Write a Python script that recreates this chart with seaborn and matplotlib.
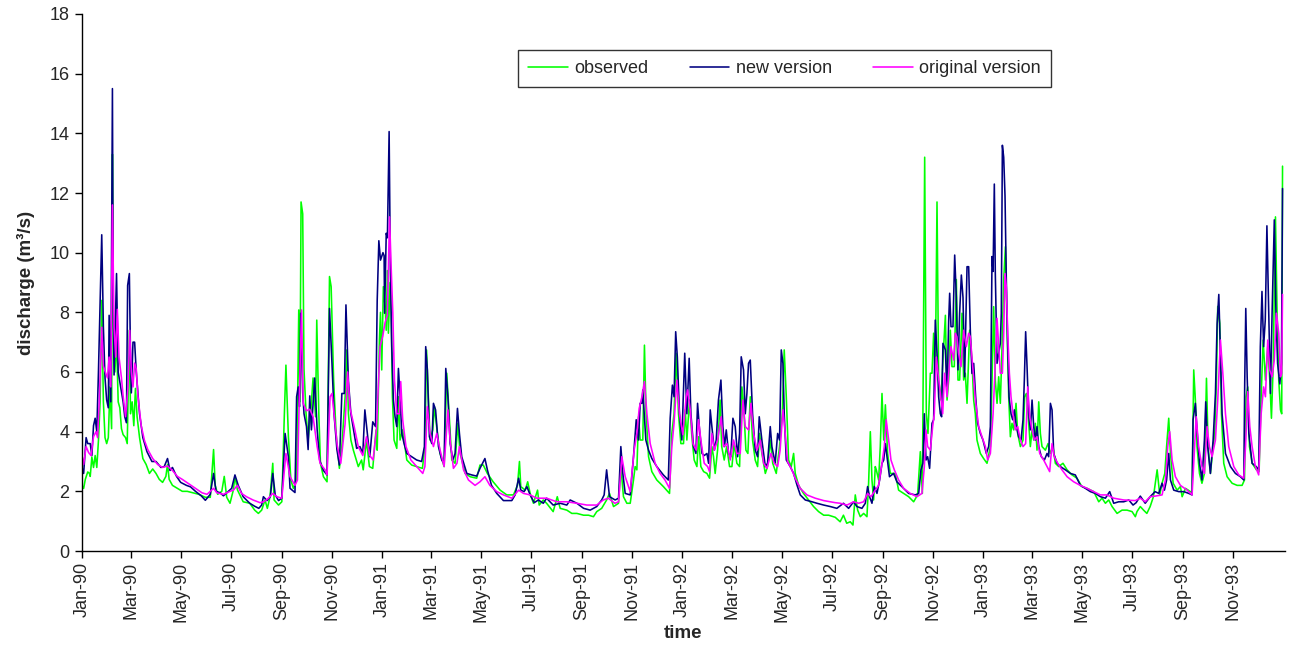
import pandas as pd
import matplotlib
matplotlib.use("Agg")
import matplotlib.pyplot as plt
import matplotlib.dates as mdates
from matplotlib.lines import Line2D
import seaborn as sns

# Daily discharge (m3/s), given as (day since 1 Jan 1990, value) pairs
observed_pts = [
    (0, 2.2), (2, 2.1), (4, 2.4), (7, 2.65), (9, 2.6), (10, 2.5), (12, 3.15), (14, 2.8), (16, 3.2), (18, 2.8),
    (20, 3.7), (22, 5.0), (24, 8.4), (26, 5.0), (28, 3.8), (30, 3.6), (32, 3.8), (34, 5.5), (36, 4.1), (37, 13.3),
    (38, 8.0), (40, 6.0), (42, 7.1), (44, 5.0), (46, 4.8), (48, 4.1), (50, 3.9), (53, 3.8), (55, 3.6), (57.6, 7.4),
    (59, 4.6), (61, 5.0), (63, 4.2), (65, 5.45), (67, 4.5), (70, 3.8), (74, 3.1), (78, 2.9), (82, 2.6), (86, 2.75),
    (90, 2.6), (94, 2.4), (98, 2.3), (102, 2.5), (104, 2.9), (106, 2.4), (110, 2.2), (116, 2.1), (122, 2.0), (128, 2.0),
    (135, 1.95), (142, 1.9), (150, 1.8), (156, 1.8), (160, 3.4), (162, 2.2), (165, 1.9), (170, 2.0), (173, 2.5), (176, 1.8),
    (180, 1.6), (184, 2.04), (186, 2.5), (189, 2.05), (196, 1.65), (204, 1.6), (210, 1.37), (214.5, 1.26), (218.5, 1.37), (222.6, 1.71),
    (225.4, 1.43), (228.7, 1.82), (232, 2.94), (233.6, 1.71), (239, 1.54), (243, 1.65), (246, 4.5), (248, 6.23), (251, 3.83), (254, 2.38),
    (257, 2.1), (261, 2.38), (263.6, 8.08), (265, 5.0), (266.4, 11.7), (268.4, 11.3), (270, 6.07), (272.5, 4.6), (275, 3.72), (278, 4.6),
    (281, 5.8), (284, 4.5), (285.5, 7.74), (288, 4.6), (290, 2.94), (293.6, 2.49), (298, 2.32), (301, 9.2), (303, 8.86), (306, 5.73),
    (309, 3.94), (313, 2.77), (316, 3.5), (320, 5.17), (322, 6.74), (324, 4.6), (327, 3.72), (330, 3.38), (336, 2.83), (340, 3.05),
    (342, 2.72), (346, 3.72), (349.5, 2.83), (353.6, 2.77), (357.6, 4.06), (359, 3.38), (361.7, 7.07), (363, 8.0), (364.5, 6.07), (366.5, 8.86),
    (368.6, 8.2), (370, 7.4), (371.4, 9.4), (372.6, 7.3), (374.7, 9.0), (376, 8.0), (377.5, 5.17), (379.5, 3.72), (382.8, 3.44), (384.8, 5.17),
    (386.8, 3.72), (390, 4.06), (395, 3.05), (401, 2.88), (407, 2.83), (414, 2.77), (417, 3.5), (419, 6.74), (421.3, 5.17), (423.3, 3.72),
    (426.6, 4.06), (428.6, 4.84), (432.2, 3.94), (435.5, 3.27), (440.4, 2.83), (443.6, 5.96), (446.4, 4.6), (449.7, 3.05), (453.7, 2.94), (457, 4.28),
    (459.8, 3.27), (466, 2.6), (472, 2.49), (480, 2.44), (484, 2.88), (488, 2.88), (493, 2.6), (500, 2.32), (508.5, 2.04), (516.6, 1.88),
    (524.7, 1.88), (529.6, 2.2), (532, 3.0), (533.6, 2.16), (539, 2.04), (542, 2.32), (545, 1.93), (549, 1.6), (554, 2.04), (556, 1.54),
    (561, 1.71), (565, 1.6), (573, 1.32), (578, 1.82), (581.5, 1.43), (589.6, 1.37), (595.7, 1.26), (601.8, 1.26), (610, 1.2), (616, 1.2),
    (622, 1.15), (626, 1.32), (632, 1.43), (638, 1.71), (641.5, 1.93), (646.4, 1.49), (652.5, 1.6), (655.3, 2.83), (658.5, 1.82), (662.6, 1.6),
    (666.7, 1.6), (670.7, 2.38), (672.7, 2.83), (674.8, 2.72), (676.8, 4.5), (678.8, 3.72), (682, 3.72), (684, 6.9), (686, 4.6), (689, 3.16),
    (693, 2.66), (699, 2.38), (707, 2.16), (714.5, 1.93), (717.3, 3.94), (720, 4.6), (722.6, 6.63), (725.4, 4.6), (728.3, 3.6), (731.5, 3.6),
    (733.6, 4.73), (735.6, 3.72), (738.8, 5.06), (741.7, 3.83), (744.5, 3.05), (747.8, 2.83), (749.8, 3.83), (752.6, 2.83), (756, 2.66), (760, 2.6),
    (763.2, 2.44), (766, 3.5), (768, 3.16), (770, 2.6), (773, 3.4), (776, 5.06), (778, 3.5), (781, 3.05), (784, 3.5), (787.5, 2.83),
    (790.4, 2.83), (793, 3.6), (796.4, 2.94), (799.7, 2.83), (802.5, 5.5), (804.5, 4.95), (807.4, 3.38), (809.8, 3.27), (812.7, 5.17), (815.5, 3.72),
    (818.7, 3.05), (821.6, 2.83), (824, 3.94), (826.8, 3.27), (831, 2.6), (833.7, 2.83), (837, 3.72), (840, 2.94), (844.3, 2.6), (848.3, 3.5),
    (851.6, 4.6), (854, 6.74), (856.5, 5.17), (859.3, 3.05), (862.5, 2.83), (865.4, 3.27), (867.4, 2.6), (871.5, 2.2), (877.5, 1.93), (883.6, 1.71),
    (889.7, 1.49), (895.8, 1.32), (902, 1.2), (908, 1.2), (916, 1.13), (922, 0.98), (926, 1.2), (930, 0.93), (934.3, 0.98), (937.6, 0.87),
    (940.4, 1.88), (943.3, 1.37), (946.5, 1.15), (950.6, 1.26), (954.6, 1.15), (956.6, 2.27), (958.7, 4.0), (960.7, 2.38), (962.7, 1.71), (964.7, 2.83),
    (966, 2.72), (968.8, 2.38), (970.8, 3.5), (972.9, 5.28), (975, 3.72), (977, 4.9), (979.7, 3.27), (983, 2.6), (989, 2.6), (993.1, 2.04),
    (999.2, 1.93), (1005.3, 1.82), (1011.4, 1.65), (1016.2, 1.88), (1019.5, 3.33), (1022, 1.93), (1024.8, 13.2), (1026.8, 4.6), (1028.8, 3.94), (1031.7, 5.96),
    (1033.7, 5.96), (1035.7, 7.3), (1037.7, 5.73), (1039.8, 11.7), (1041.8, 5.73), (1044.6, 5.06), (1047, 6.4), (1050, 7.9), (1052, 5.06), (1054, 5.73),
    (1056, 7.4), (1058, 6.18), (1060.8, 6.18), (1063.3, 9.1), (1065.3, 5.73), (1067.3, 5.73), (1070.2, 7.97), (1072.2, 5.73), (1074.2, 5.96), (1076.3, 4.95),
    (1079.5, 7.4), (1082.3, 6.4), (1084.4, 5.06), (1086.4, 4.6), (1088.4, 3.72), (1092.5, 3.27), (1096.5, 3.1), (1100.6, 2.94), (1104.7, 3.5), (1106.7, 5.73),
    (1108.7, 8.19), (1110.7, 5.73), (1112.8, 4.95), (1114.8, 5.84), (1116.8, 4.95), (1118.9, 6.85), (1120.9, 9.1), (1123, 10.2), (1125, 7.4), (1127, 5.17),
    (1129, 3.83), (1131, 4.28), (1133, 4.06), (1135.9, 4.95), (1137.9, 3.94), (1141.2, 3.5), (1144.4, 3.72), (1146.4, 5.17), (1148.5, 5.28), (1150.5, 4.6),
    (1153.3, 3.5), (1155.4, 4.06), (1157.4, 3.72), (1159.4, 4.28), (1161.4, 3.38), (1163.5, 5.0), (1165.5, 3.94), (1167.5, 3.5), (1171.6, 3.38), (1174.8, 3.6),
    (1177.7, 3.27), (1180.9, 3.5), (1183.7, 2.94), (1187.8, 2.83), (1193, 2.94), (1198, 2.72), (1204, 2.55), (1210, 2.44), (1216, 2.16), (1222.3, 2.1),
    (1230.4, 1.99), (1236.5, 1.65), (1240.5, 1.77), (1244.6, 1.6), (1248.6, 1.71), (1252.7, 1.49), (1258.8, 1.26), (1264.8, 1.37), (1270.9, 1.37), (1277, 1.32),
    (1281, 1.15), (1283, 1.32), (1287, 1.49), (1291, 1.37), (1295, 1.26), (1299, 1.49), (1303, 1.82), (1307.5, 2.72), (1310.7, 1.88), (1313.5, 2.27),
    (1316.8, 2.6), (1319, 3.5), (1321.6, 4.45), (1323.7, 3.27), (1327, 2.27), (1331.8, 2.04), (1335.8, 2.16), (1337.9, 1.82), (1342, 2.1), (1348, 1.99),
    (1350, 1.93), (1352, 6.07), (1354, 5.06), (1356, 3.5), (1359, 2.6), (1362, 2.27), (1365, 2.6), (1367.5, 5.79), (1369.5, 3.5), (1372.3, 2.6),
    (1375.6, 3.5), (1377.6, 3.94), (1379.6, 5.73), (1381.2, 8.2), (1383.7, 7.63), (1385.7, 4.6), (1388.5, 2.94), (1392.6, 2.49), (1398.7, 2.27), (1404.8, 2.2),
    (1410.8, 2.2), (1413.7, 2.38), (1415.7, 5.17), (1417.7, 5.5), (1419.8, 3.5), (1423, 2.94), (1428.3, 2.72), (1431.5, 2.66), (1434, 5.17), (1436.4, 7.07),
    (1439.2, 5.73), (1442, 6.85), (1444.5, 5.73), (1446.5, 4.45), (1448.6, 6.18), (1451.4, 11.2), (1453.4, 7.97), (1455.4, 5.73), (1457.5, 4.73), (1459, 4.6),
    (1460, 12.9),
]

new_version_pts = [
    (0, 2.8), (2, 2.6), (5, 3.8), (7, 3.6), (10, 3.6), (12, 3.2), (14, 4.2), (16, 4.45), (18, 4.0), (20, 6.0),
    (24, 10.6), (26, 7.5), (28, 5.8), (30, 5.06), (32, 4.8), (33, 7.9), (35, 5.0), (37, 15.5), (38, 8.0), (39, 5.9),
    (42, 9.3), (44, 6.0), (47, 5.5), (50, 5.0), (52, 4.5), (54, 4.3), (55.5, 8.9), (57.6, 9.3), (59, 6.5), (60, 5.3),
    (62, 7.0), (64, 7.0), (66, 6.0), (70, 4.6), (74, 3.8), (79, 3.33), (85, 3.0), (90, 3.0), (96, 2.8), (100, 2.83),
    (104, 3.1), (107, 2.7), (110, 2.8), (115, 2.5), (120, 2.3), (127, 2.2), (132, 2.15), (138, 2.0), (145, 1.85), (150, 1.7),
    (156, 1.9), (160, 2.6), (163, 2.0), (168, 1.95), (172, 1.85), (178, 2.0), (182, 2.1), (186, 2.55), (190, 2.2), (196, 1.82),
    (204, 1.6), (210, 1.5), (215, 1.43), (218.5, 1.54), (220.6, 1.82), (225, 1.69), (229, 1.82), (232, 2.6), (235, 1.88), (239, 1.69),
    (243, 1.77), (247, 3.94), (251, 3.16), (253, 2.1), (259, 1.96), (261, 5.17), (263, 5.5), (264.5, 4.84), (266, 7.97), (268.4, 5.3),
    (270, 4.6), (273, 4.17), (275, 3.4), (277, 5.2), (279, 4.06), (283, 5.8), (286, 4.06), (289, 3.05), (293.6, 2.7), (298, 2.55),
    (301, 8.13), (304, 6.29), (306.5, 4.6), (310, 3.4), (313, 2.88), (316, 5.28), (319, 5.28), (321, 8.25), (324, 5.7), (327, 4.6),
    (331, 3.94), (334, 3.44), (338, 3.5), (341.5, 3.27), (344, 4.73), (347, 3.94), (350, 3.16), (353.6, 4.33), (357, 4.17), (359, 8.4),
    (361, 10.4), (363, 9.75), (366, 10.0), (367.4, 9.9), (368, 7.97), (370, 10.65), (371.4, 10.5), (373.5, 14.06), (375, 9.5), (376.7, 6.85),
    (378.7, 5.06), (380.7, 4.5), (382.8, 4.17), (384.8, 6.12), (386.8, 5.17), (388.9, 3.94), (391.7, 3.6), (395, 3.27), (401, 3.16), (407, 3.05),
    (413, 3.0), (416.4, 3.5), (418, 6.85), (420, 6.07), (422.5, 3.83), (425.4, 3.6), (427.4, 4.95), (430, 4.73), (433.5, 3.5), (437.5, 3.05),
    (440.4, 2.94), (442.4, 6.12), (445, 5.17), (447.7, 3.6), (451, 3.05), (453.7, 3.27), (456.6, 4.78), (459, 3.94), (461.8, 3.16), (468, 2.6),
    (474, 2.55), (480, 2.51), (484, 2.77), (490, 3.1), (493, 2.72), (498, 2.2), (504.4, 1.93), (512.5, 1.69), (522.7, 1.69), (526.7, 1.88),
    (531, 2.44), (533.6, 2.04), (537.7, 1.99), (541, 2.16), (545, 1.88), (550, 1.62), (555, 1.71), (561, 1.6), (565, 1.77), (573, 1.54),
    (581.5, 1.6), (589.6, 1.54), (593.7, 1.71), (601.8, 1.6), (610, 1.43), (618, 1.37), (626, 1.49), (632, 1.71), (635, 1.88), (638, 2.72),
    (641.5, 1.82), (648.4, 1.71), (652.5, 1.77), (655.3, 3.5), (657.7, 2.6), (660.6, 1.93), (666.7, 1.88), (670.7, 3.16), (674, 4.4), (676.8, 3.72),
    (678.8, 4.95), (681, 4.95), (682, 5.4), (683.7, 4.6), (685.7, 3.72), (689, 3.38), (693, 3.1), (699, 2.83), (707, 2.55), (713, 2.38),
    (715.3, 4.45), (718, 5.56), (720, 5.17), (722, 7.35), (724, 6.5), (726.6, 4.6), (729.5, 3.72), (733, 6.63), (735.6, 4.6), (738.4, 6.46),
    (740.5, 4.6), (743.7, 3.5), (746.6, 3.27), (748.6, 4.95), (751, 4.06), (754, 3.27), (756.7, 3.2), (760, 3.27), (762, 2.94), (764, 4.73),
    (766, 4.17), (769, 3.38), (771.3, 3.72), (774, 5.06), (777, 5.73), (779.4, 4.17), (781.4, 3.5), (783.5, 4.06), (786.3, 3.27), (789, 3.16),
    (791.6, 4.45), (794.4, 4.17), (797.3, 3.16), (799.7, 3.94), (801.7, 6.51), (804.5, 6.07), (806.6, 4.6), (808.6, 5.28), (810.6, 6.29), (812.7, 6.4),
    (815.5, 4.6), (818.7, 3.38), (821.6, 3.16), (823.6, 4.5), (826.8, 3.72), (831, 2.83), (833.7, 2.94), (837, 4.17), (839, 3.5), (843, 2.94),
    (846, 3.94), (848.3, 3.72), (850.4, 6.74), (852.4, 6.29), (854, 4.6), (856.5, 3.05), (861.3, 2.83), (865.4, 2.6), (869.4, 2.22), (873.5, 1.88),
    (879.6, 1.71), (887.7, 1.65), (893.8, 1.6), (902, 1.54), (910, 1.49), (918, 1.43), (926, 1.6), (932.3, 1.43), (938.4, 1.65), (942.4, 1.49),
    (948.5, 1.43), (952.6, 1.6), (955.4, 2.16), (957.8, 1.82), (960.7, 1.6), (963.5, 2.16), (966.8, 1.93), (970, 2.38), (972.9, 2.94), (975, 3.05),
    (977, 3.6), (979, 3.16), (982, 2.49), (987, 2.6), (991, 2.32), (997, 2.16), (1005.3, 1.93), (1013.4, 1.88), (1017.5, 1.93), (1020.3, 2.72),
    (1022.7, 2.94), (1024.4, 4.6), (1026.4, 3.05), (1028.4, 3.16), (1030.8, 2.77), (1033.7, 4.28), (1035.7, 4.4), (1037.7, 7.74), (1039.8, 6.63), (1041.8, 5.17),
    (1043.8, 4.6), (1045.4, 4.5), (1047, 6.96), (1050, 6.74), (1052, 5.28), (1054, 7.74), (1055.2, 8.64), (1056.8, 7.52), (1059.2, 7.52), (1061.3, 9.92),
    (1063.3, 8.5), (1065.3, 6.07), (1067.3, 7.97), (1069.4, 9.25), (1071.4, 8.5), (1073.4, 5.84), (1076.3, 9.53), (1078.3, 9.53), (1080.3, 7.4), (1082.3, 5.95),
    (1084.4, 6.29), (1086.8, 5.17), (1089.2, 4.28), (1092.5, 3.94), (1095.7, 3.72), (1099.8, 3.27), (1102.6, 3.5), (1104.7, 4.17), (1106.7, 9.87), (1108, 9.37),
    (1109.5, 12.3), (1110.7, 9.3), (1112.8, 6.29), (1114.8, 6.63), (1116.8, 6.96), (1118, 7.97), (1119.3, 13.6), (1120.9, 13.2), (1122.5, 11.9), (1124.1, 9.08),
    (1125.8, 6.85), (1127.4, 5.17), (1129.8, 4.6), (1131.8, 4.4), (1133.9, 4.73), (1136.3, 4.17), (1139.1, 3.83), (1142, 3.72), (1144.4, 4.4), (1146, 5.73),
    (1147.6, 7.35), (1149.3, 6.18), (1151.3, 4.6), (1153.3, 4.06), (1155.4, 5.06), (1157.4, 4.17), (1159.4, 3.72), (1161.4, 4.17), (1163.5, 3.5), (1166.7, 3.16),
    (1170.4, 3.05), (1173.6, 3.27), (1175.6, 3.16), (1177.7, 4.95), (1179.7, 4.73), (1181.7, 3.27), (1185.8, 2.94), (1189.8, 2.83), (1195.9, 2.72), (1202, 2.6),
    (1208, 2.55), (1214.1, 2.2), (1220.2, 2.1), (1226.3, 1.99), (1232.4, 1.93), (1238.5, 1.82), (1244.6, 1.77), (1249.8, 1.99), (1254.7, 1.6), (1260.8, 1.65),
    (1266.9, 1.65), (1273, 1.71), (1278.2, 1.54), (1282, 1.62), (1287, 1.84), (1293, 1.6), (1299, 1.82), (1305, 1.99), (1309.5, 1.93), (1313.5, 2.27),
    (1316.4, 2.04), (1319, 2.38), (1321.6, 3.27), (1323.7, 2.38), (1327.7, 2.04), (1333.8, 1.99), (1340, 1.99), (1346, 1.93), (1350, 1.88), (1351.2, 4.4),
    (1354, 4.95), (1356, 4.06), (1359, 2.94), (1362, 2.38), (1365, 3.72), (1366.6, 5.0), (1369, 3.5), (1372.3, 2.6), (1375.6, 3.72), (1378.4, 5.28),
    (1380.4, 7.6), (1382.5, 8.6), (1384.5, 6.63), (1386.5, 4.6), (1390.6, 3.27), (1396.7, 2.83), (1402.7, 2.6), (1408.8, 2.49), (1412.9, 2.38), (1414, 5.62),
    (1415.3, 8.13), (1417, 5.84), (1419, 3.94), (1423, 2.94), (1428, 2.83), (1431, 2.72), (1433, 6.85), (1435, 8.7), (1437, 6.85), (1439, 7.74),
    (1441, 10.9), (1443.3, 7.97), (1445.3, 5.28), (1447.3, 7.97), (1450, 11.1), (1452, 7.97), (1454, 6.29), (1456.7, 5.6), (1458.7, 6.29), (1460, 12.15),
]

original_version_pts = [
    (0, 3.2), (2, 2.9), (5, 3.5), (8, 3.3), (11, 3.2), (14, 3.83), (17, 4.0), (19, 3.8), (21, 5.0), (24, 7.5),
    (26, 6.2), (29, 5.95), (31, 5.8), (33, 6.5), (35, 5.5), (37, 11.6), (39, 7.5), (41, 6.5), (43, 8.1), (45, 6.5),
    (48, 5.8), (50, 5.2), (53, 4.5), (56, 5.5), (58, 7.4), (60, 6.0), (62, 5.5), (64, 6.3), (66, 6.1), (68, 5.2),
    (72, 4.2), (76, 3.7), (80, 3.4), (86, 3.1), (92, 2.9), (98, 2.8), (104, 2.85), (110, 2.7), (116, 2.5), (122, 2.4),
    (130, 2.25), (138, 2.1), (146, 1.95), (152, 1.9), (160, 2.1), (164, 1.95), (172, 1.9), (180, 2.0), (184, 2.04), (189, 2.2),
    (194, 1.93), (200, 1.82), (208, 1.71), (216.5, 1.62), (221, 1.65), (226, 1.75), (232, 1.93), (237, 1.82), (243, 1.77), (248, 3.27),
    (253, 2.49), (259, 2.2), (262, 2.38), (264, 4.84), (267, 8.08), (269, 4.95), (273, 4.7), (277, 4.75), (281, 4.5), (286, 3.5),
    (289.5, 2.94), (295.6, 2.72), (298, 2.55), (301.7, 5.17), (304, 5.28), (306.5, 4.6), (310.6, 3.5), (314.7, 2.94), (320, 4.28), (323, 6.0),
    (326, 4.78), (331, 4.17), (336, 3.5), (341.5, 3.2), (346, 3.83), (350, 3.2), (354, 3.05), (358, 4.06), (362.5, 6.85), (365.7, 7.2),
    (368.6, 7.66), (371.4, 7.9), (374, 11.2), (376, 9.5), (378, 7.97), (380, 5.73), (382.8, 4.6), (386, 4.6), (387.6, 5.68), (390, 4.4),
    (394, 3.5), (400, 3.05), (407, 2.83), (414.4, 2.6), (417, 2.83), (420, 4.84), (423.3, 3.94), (427.4, 3.5), (431.4, 3.94), (435.5, 3.38),
    (440.4, 2.83), (445, 4.73), (447.7, 3.72), (451.7, 2.77), (456, 2.94), (459, 3.5), (464, 2.72), (470, 2.38), (478, 2.2), (484, 2.32),
    (490, 2.49), (496, 2.2), (504.4, 1.99), (512.5, 1.88), (522.7, 1.77), (531, 2.04), (537, 1.93), (545, 1.88), (553, 1.77), (565, 1.77),
    (577.4, 1.65), (589.6, 1.65), (601.8, 1.6), (614, 1.54), (626, 1.54), (634, 1.71), (640, 1.77), (648, 1.6), (652.5, 1.65), (656.5, 3.16),
    (660.6, 2.49), (666.7, 1.99), (671.5, 3.38), (674.8, 3.94), (677.6, 4.78), (681, 5.17), (684, 5.68), (687, 4.6), (691, 3.6), (697, 2.94),
    (703, 2.6), (709, 2.38), (714.5, 2.1), (717.3, 3.5), (720, 4.28), (723.4, 5.73), (726.6, 4.6), (730.7, 3.9), (734.8, 5.17), (736.4, 5.4),
    (739.7, 4.73), (743, 3.6), (747, 3.38), (749.8, 4.4), (752.6, 3.72), (756.7, 2.94), (760.8, 2.83), (763.2, 2.66), (766, 3.94), (769, 3.38),
    (773, 3.72), (777.4, 4.5), (780.2, 3.5), (784.3, 3.6), (788.3, 3.05), (792.4, 3.72), (796.4, 3.27), (800.5, 3.27), (803.7, 5.06), (806.6, 4.17),
    (810.6, 4.06), (813.5, 4.95), (816.7, 3.94), (820.8, 3.38), (824.8, 3.72), (829, 2.94), (833, 2.77), (837.8, 3.27), (841.9, 2.94), (846, 2.83),
    (849, 3.38), (852.4, 4.73), (855.2, 3.94), (858, 3.0), (863.3, 2.72), (867.4, 2.44), (873.5, 2.1), (881.6, 1.88), (891.7, 1.77), (902, 1.69),
    (916, 1.62), (922, 1.6), (930.3, 1.54), (938.4, 1.65), (944.5, 1.6), (950.6, 1.65), (955.4, 1.93), (959.5, 1.82), (964.7, 2.04), (968.8, 2.2),
    (972.9, 2.94), (975.7, 3.5), (978, 4.4), (981, 3.72), (983.8, 3.05), (987.9, 2.72), (993.1, 2.38), (999.2, 2.1), (1007.3, 1.93), (1015.4, 1.82),
    (1021.5, 1.93), (1024.4, 2.83), (1026.4, 4.06), (1028.4, 3.5), (1031.7, 3.38), (1034.5, 4.17), (1036.5, 4.6), (1039, 6.5), (1040.6, 6.06), (1043.8, 5.28),
    (1046.7, 4.6), (1049, 5.96), (1052, 5.17), (1054, 5.96), (1056.8, 6.85), (1060, 6.4), (1062, 7.3), (1064, 7.18), (1066, 6.63), (1069, 6.18),
    (1072.2, 7.4), (1075.4, 6.85), (1078.3, 7.3), (1080.3, 7.18), (1083.6, 6.06), (1086.4, 5.06), (1090.5, 4.17), (1094.5, 3.83), (1098.6, 3.5), (1101.4, 3.05),
    (1104.7, 3.27), (1108, 4.6), (1110.7, 6.29), (1112.8, 7.8), (1114.8, 6.85), (1116.8, 5.96), (1119.3, 5.96), (1120.9, 7.3), (1122.5, 9.3), (1124.1, 8.86),
    (1125.8, 7.3), (1127.8, 5.96), (1129.8, 5.17), (1132.2, 4.6), (1135, 4.06), (1137.9, 4.17), (1141.2, 3.72), (1144.4, 3.5), (1147.6, 3.6), (1150.1, 5.5),
    (1152.5, 4.5), (1155.4, 4.06), (1158.2, 3.72), (1161.4, 3.83), (1164.7, 3.27), (1169.5, 3.05), (1173.6, 2.83), (1176.8, 2.66), (1179.7, 3.6), (1182.5, 3.16),
    (1186.6, 2.94), (1191.8, 2.72), (1198, 2.49), (1206, 2.32), (1214, 2.2), (1222.3, 2.1), (1230.4, 1.99), (1238.5, 1.88), (1246.6, 1.88), (1254.7, 1.77),
    (1266.9, 1.71), (1281, 1.69), (1287, 1.77), (1293, 1.65), (1299, 1.82), (1305, 1.84), (1313.5, 1.88), (1317.6, 2.38), (1320.4, 3.5), (1322.8, 4.0),
    (1325.7, 3.05), (1329.7, 2.49), (1335.8, 2.2), (1344, 2.04), (1350, 1.88), (1352, 2.94), (1355, 4.5), (1358, 3.5), (1362, 2.83), (1365, 2.6),
    (1368.3, 4.17), (1371, 3.5), (1374.3, 3.16), (1378.4, 3.72), (1381.2, 5.06), (1384.5, 7.07), (1387.7, 5.84), (1390.6, 4.6), (1394.6, 3.5), (1400.7, 2.83),
    (1406.8, 2.55), (1412.9, 2.44), (1415, 3.5), (1417.7, 5.34), (1420.2, 4.17), (1423, 3.5), (1427, 2.83), (1431, 2.55), (1434, 4.6), (1437, 5.5),
    (1439.2, 5.17), (1442, 7.07), (1444.5, 6.06), (1447.3, 5.84), (1450, 6.4), (1452.6, 7.97), (1455.4, 7.3), (1457.5, 5.84), (1459, 5.95), (1460, 8.6),
]

series_names = ["observed", "new version", "original version"]
series_colors = ["#00FF00", "#000080", "#FF00FF"]
tick_dates = pd.date_range("1990-01-01", "1993-11-01", freq="2MS")
y_ticks = list(range(0, 19, 2))

start = pd.Timestamp("1990-01-01")


def to_frame(points, name):
    days, values = zip(*points)
    return pd.DataFrame({
        "date": start + pd.to_timedelta(list(days), unit="D"),
        "discharge": list(values),
        "series": name,
    })


data = pd.concat(
    [to_frame(p, n) for p, n in zip([observed_pts, new_version_pts, original_version_pts], series_names)],
    ignore_index=True,
)

sns.set_style("ticks")
plt.rcParams["font.family"] = ["Liberation Sans", "DejaVu Sans"]

W, H = 1290, 655
fig = plt.figure(figsize=(W / 100, H / 100), dpi=100)
ax = fig.add_axes([82 / W, 104 / H, 1203 / W, 537 / H])

palette = dict(zip(series_names, series_colors))
sns.lineplot(
    data=data, x="date", y="discharge", hue="series", hue_order=series_names,
    palette=palette, estimator=None, sort=False, linewidth=1.15, ax=ax, legend=False,
)

ax.set_xlim(start, start + pd.Timedelta(days=1463))
ax.set_ylim(0, 18)
ax.set_yticks(y_ticks)
ax.set_xticks(tick_dates)
ax.xaxis.set_major_formatter(mdates.DateFormatter("%b-%y"))
ax.tick_params(axis="x", rotation=90, labelsize=13, length=5, width=1, color="black", pad=3)
ax.tick_params(axis="y", labelsize=13, length=5, width=1, color="black", pad=4)

for side in ["top", "right"]:
    ax.spines[side].set_visible(False)
for side in ["left", "bottom"]:
    ax.spines[side].set_color("black")
    ax.spines[side].set_linewidth(1)

ax.set_xlabel("time", fontsize=13.5, fontweight="bold", labelpad=2)
ax.set_ylabel("discharge (m³/s)", fontsize=13.5, fontweight="bold", labelpad=10)

handles = [Line2D([0], [0], color=c, lw=1.15) for c in series_colors]
leg = ax.legend(
    handles, series_names, ncol=3, loc="center", bbox_to_anchor=(0.584, 0.898),
    frameon=True, fancybox=False, edgecolor="black", fontsize=13,
    handlelength=2.2, handletextpad=0.35, columnspacing=2.3, borderpad=0.55,
)
leg.get_frame().set_linewidth(1)

fig.savefig("out.png", dpi=100, facecolor="white")
